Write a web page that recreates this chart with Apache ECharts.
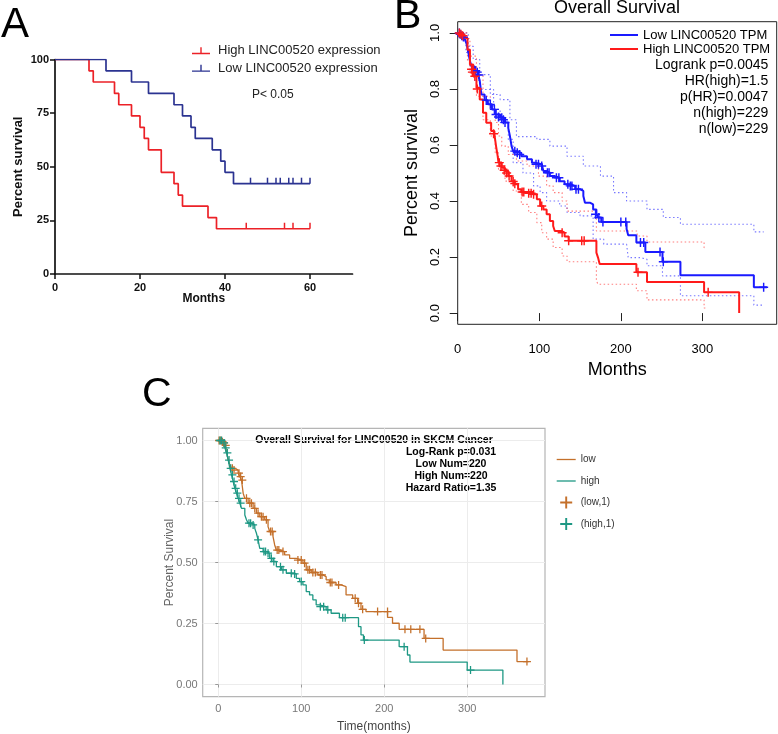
<!DOCTYPE html>
<html>
<head>
<meta charset="utf-8">
<script src="https://cdn.jsdelivr.net/npm/echarts@6.0.0/dist/echarts.min.js"></script>
<style>
  html, body { margin: 0; padding: 0; background: #fff; }
  #chart { width: 778px; height: 734px; }
</style>
</head>
<body>
<div id="chart"></div>
<script>
// ---- panel A (GraphPad style), months vs percent survival ----
const aHighCurve = [[0, 100], [8, 94.7], [9, 89.5], [14, 84.2], [15, 78.9], [18, 73.7], [20, 68.4], [21, 63.2],
  [22, 57.9], [25, 47.4], [28, 42.1], [29, 36.8], [30, 31.6], [36, 26.3], [38, 21.1], [60, 21.1]];
const aHighCensor = [[45, 21.1], [54, 21.1], [56, 21.1], [60, 21.1]];
const aLowCurve = [[0, 100], [12, 94.7], [18, 89.5], [22, 84.2], [28, 78.9], [30, 73.7], [32, 68.4], [33, 63.2],
  [37, 57.9], [39, 52.6], [40, 47.4], [42, 42.1], [60, 42.1]];
const aLowCensor = [[46, 42.1], [50, 42.1], [52, 42.1], [53, 42.1], [55, 42.1], [56, 42.1], [58, 42.1], [60, 42.1]];
const aXTicks = [0, 20, 40, 60];
const aYTicks = [0, 25, 50, 75, 100];

// ---- panel B (GEPIA) ----
const bLowCurve = [[0, 1], [3, 0.995], [6, 0.985], [9, 0.975], [11, 0.96], [13, 0.93], [15, 0.9], [17, 0.88], [21, 0.865],
  [25, 0.85], [27, 0.83], [29, 0.78], [33, 0.76], [37, 0.745], [42, 0.727], [46, 0.709], [52, 0.697], [58, 0.68],
  [62, 0.66], [64, 0.632], [66, 0.596], [68, 0.578], [72, 0.572], [78, 0.56], [85, 0.549], [91, 0.537], [95, 0.531],
  [103, 0.525], [105, 0.507], [109, 0.501], [113, 0.489], [119, 0.483], [125, 0.471], [131, 0.46], [138, 0.454],
  [144, 0.442], [150, 0.436], [154, 0.418], [156, 0.394], [162, 0.388], [166, 0.37], [170, 0.353], [172, 0.341],
  [176, 0.325], [207, 0.3], [209, 0.278], [219, 0.252], [230, 0.218], [251, 0.183], [273, 0.135], [363, 0.092], [379, 0.092]];
const bHighCurve = [[0, 1], [4, 0.995], [7, 0.99], [9, 0.982], [12, 0.94], [15, 0.887], [19, 0.845], [23, 0.804],
  [27, 0.762], [31, 0.715], [35, 0.679], [41, 0.65], [45, 0.638], [47, 0.596], [49, 0.56], [50, 0.537], [54, 0.519],
  [58, 0.507], [62, 0.489], [66, 0.471], [70, 0.46], [74, 0.442], [78, 0.432], [92, 0.424], [97, 0.406], [101, 0.382],
  [105, 0.37], [109, 0.353], [113, 0.329], [117, 0.311], [119, 0.293], [127, 0.287], [131, 0.273], [136, 0.258],
  [170, 0.216], [172, 0.198], [174, 0.175], [219, 0.146], [232, 0.111], [302, 0.074], [345, 0]];
const bLowCensor = [[2, 1], [3, 0.995], [5, 0.99], [7, 0.985], [22, 0.865], [24, 0.86], [26, 0.85], [35, 0.76],
  [40, 0.745], [45, 0.727], [47, 0.709], [50, 0.7], [54, 0.697], [56, 0.69], [58, 0.68], [70, 0.578], [73, 0.572],
  [76, 0.566], [96, 0.531], [99, 0.531], [103, 0.525], [110, 0.501], [112, 0.501], [121, 0.483], [124, 0.483],
  [135, 0.46], [138, 0.454], [140, 0.454], [145, 0.442], [148, 0.442], [169, 0.353], [173, 0.341], [178, 0.325],
  [200, 0.325], [206, 0.325], [224, 0.252], [228, 0.252], [248, 0.218], [252, 0.183], [375, 0.092]];
const bHighCensor = [[2, 1], [4, 0.995], [6, 0.99], [17, 0.87], [18, 0.86], [21, 0.845], [24, 0.8], [44, 0.64],
  [51, 0.537], [53, 0.525], [57, 0.51], [60, 0.5], [63, 0.489], [68, 0.47], [70, 0.462], [79, 0.432], [81, 0.432],
  [87, 0.428], [90, 0.428], [93, 0.424], [103, 0.382], [128, 0.287], [136, 0.258], [152, 0.258], [155, 0.258],
  [221, 0.146], [307, 0.074]];
const bLowUpper = [[0, 1], [10, 1], [13, 0.952], [19, 0.905], [27, 0.851], [40, 0.78], [52, 0.762], [64, 0.69],
  [72, 0.63], [97, 0.62], [113, 0.596], [134, 0.56], [154, 0.525], [175, 0.489], [191, 0.43], [207, 0.4], [232, 0.37],
  [252, 0.341], [273, 0.317], [363, 0.29], [375, 0.29]];
const bLowLower = [[0, 1], [5, 0.985], [10, 0.93], [15, 0.86], [20, 0.83], [27, 0.798], [44, 0.727], [52, 0.68],
  [62, 0.62], [68, 0.537], [80, 0.5], [93, 0.454], [101, 0.43], [109, 0.4], [125, 0.382], [134, 0.359], [150, 0.347],
  [166, 0.264], [179, 0.246], [207, 0.24], [209, 0.198], [224, 0.192], [232, 0.169], [251, 0.133], [273, 0.062],
  [363, 0.0285], [375, 0.0285]];
const bHighUpper = [[0, 1], [12, 0.98], [15, 0.917], [23, 0.851], [31, 0.774], [40, 0.727], [46, 0.68], [50, 0.632],
  [54, 0.596], [62, 0.566], [72, 0.543], [85, 0.525], [99, 0.489], [109, 0.454], [117, 0.43], [128, 0.4], [134, 0.364],
  [170, 0.293], [220, 0.275], [232, 0.254], [302, 0.233], [305, 0.233]];
const bHighLower = [[0, 1], [8, 0.97], [12, 0.9], [15, 0.857], [23, 0.774], [31, 0.69], [40, 0.632], [46, 0.572],
  [50, 0.513], [58, 0.471], [68, 0.436], [78, 0.388], [87, 0.359], [97, 0.323], [103, 0.287], [109, 0.264],
  [117, 0.234], [128, 0.204], [134, 0.183], [170, 0.115], [172, 0.103], [219, 0.08], [232, 0.047], [302, 0.018], [305, 0.018]];
const bXTicks = [0, 100, 200, 300];
const bYTicks = [0, 0.2, 0.4, 0.6, 0.8, 1.0];
const bStats = ['Logrank p=0.0045', 'HR(high)=1.5', 'p(HR)=0.0047', 'n(high)=229', 'n(low)=229'];

// ---- panel C (SKCM) ----
const cLowCurve = [[0, 1], [6, 0.99], [8, 0.98], [10, 0.955], [12, 0.92], [14, 0.9], [16, 0.886], [20, 0.879],
  [24, 0.866], [26, 0.852], [28, 0.838], [30, 0.784], [32, 0.763], [36, 0.743], [42, 0.722], [46, 0.702], [50, 0.688],
  [56, 0.675], [60, 0.647], [62, 0.627], [66, 0.606], [68, 0.572], [70, 0.551], [74, 0.545], [80, 0.531], [86, 0.517],
  [94, 0.51], [102, 0.497], [106, 0.47], [112, 0.459], [120, 0.449], [126, 0.442], [130, 0.429], [134, 0.418],
  [142, 0.408], [148, 0.401], [154, 0.367], [162, 0.353], [168, 0.333], [172, 0.308], [178, 0.299], [204, 0.275],
  [210, 0.251], [218, 0.226], [248, 0.189], [271, 0.141], [360, 0.094], [374, 0.094]];
const cHighCurve = [[0, 1], [6, 0.99], [8, 0.97], [10, 0.949], [12, 0.92], [14, 0.886], [16, 0.859], [18, 0.832],
  [20, 0.804], [22, 0.784], [24, 0.763], [26, 0.743], [28, 0.722], [32, 0.695], [34, 0.675], [36, 0.661], [40, 0.654],
  [44, 0.64], [46, 0.62], [48, 0.593], [50, 0.558], [54, 0.545], [58, 0.538], [62, 0.517], [66, 0.504], [70, 0.483],
  [76, 0.47], [82, 0.456], [90, 0.453], [94, 0.435], [98, 0.422], [102, 0.408], [106, 0.381], [110, 0.367],
  [114, 0.347], [118, 0.326], [122, 0.319], [130, 0.306], [136, 0.292], [146, 0.274], [169, 0.237], [172, 0.203],
  [175, 0.182], [218, 0.155], [228, 0.121], [231, 0.092], [300, 0.059], [343, 0]];
const cLowCensor = [[1, 1], [3, 1], [5, 0.995], [7, 0.99], [9, 0.98], [17, 0.886], [19, 0.879], [25, 0.866],
  [27, 0.852], [29, 0.838], [34, 0.763], [38, 0.743], [40, 0.743], [44, 0.722], [48, 0.702], [52, 0.688], [54, 0.688],
  [58, 0.675], [63, 0.627], [65, 0.627], [71, 0.551], [73, 0.551], [78, 0.545], [96, 0.51], [100, 0.51], [104, 0.497],
  [108, 0.47], [110, 0.47], [114, 0.459], [117, 0.459], [123, 0.449], [125, 0.449], [135, 0.418], [137, 0.418],
  [145, 0.408], [165, 0.353], [169, 0.333], [174, 0.308], [192, 0.299], [204, 0.299], [225, 0.226], [232, 0.226],
  [243, 0.226], [250, 0.189], [372, 0.094]];
const cHighCensor = [[2, 1], [4, 1], [7, 0.99], [9, 0.97], [11, 0.949], [13, 0.92], [15, 0.886], [17, 0.859],
  [19, 0.832], [21, 0.804], [23, 0.784], [25, 0.763], [27, 0.743], [37, 0.661], [39, 0.661], [42, 0.654], [48, 0.593],
  [55, 0.545], [57, 0.545], [60, 0.538], [64, 0.517], [67, 0.504], [75, 0.483], [78, 0.47], [88, 0.456], [92, 0.453],
  [100, 0.422], [123, 0.319], [127, 0.319], [132, 0.306], [150, 0.274], [153, 0.274], [176, 0.182], [224, 0.155],
  [304, 0.059]];
const cXTicks = [0, 100, 200, 300];
const cYTicks = [0, 0.25, 0.5, 0.75, 1.0];
const cTitle = 'Overall Survival for LINC00520 in SKCM Cancer';
const cStats = ['Log-Rank p=0.031', 'Low Num=220', 'High Num=220', 'Hazard Ratio=1.35'];

const RED_A = '#EC2127', BLUE_A = '#2B3391';
const RED_B = '#FF1A1A', BLUE_B = '#1A1AFF';
const LOW_C = '#C4702B', HIGH_C = '#1E9884';
const plusIcon = 'path://M4.2,0h1.6v10h-1.6z M0,4.2h10v1.6h-10z';
const tickIcon = 'path://M0,5.6h18v1.4h-18z M8.3,0h1.4v6h-1.4z';
const ARIAL = '"Liberation Sans", Arial, sans-serif';

function km(name, data, color, width, idx, extra) {
  return Object.assign({
    type: 'line', name, data, step: 'end', symbol: 'none', silent: true,
    xAxisIndex: idx, yAxisIndex: idx,
    lineStyle: { color, width }, itemStyle: { color }, z: 3
  }, extra || {});
}
function marks(name, data, color, idx, symbol, size, extra) {
  return Object.assign({
    type: 'scatter', name, data, symbol, symbolSize: size, silent: true,
    xAxisIndex: idx, yAxisIndex: idx, itemStyle: { color, opacity: 1 }, z: 4
  }, extra || {});
}
function ci(data, color, idx) {
  return km(undefined, data, color, 1.1, idx, { lineStyle: { color, width: 1.1, type: [1.5, 2.5] }, z: 2 });
}
// flat line icon for the legends
function lineIcon(len, thick) {
  return 'path://M0,0h' + len + 'v' + thick + 'h-' + len + 'z';
}

const chart = echarts.init(document.getElementById('chart'), null, { renderer: 'canvas' });

const option = {
  animation: false,
  backgroundColor: '#fff',
  grid: [
    { left: 55, top: 59.5, width: 297.5, height: 214.5 },
    { left: 457.7, top: 21.7, width: 319, height: 302.6, show: true, borderColor: '#222', borderWidth: 1 },
    { left: 202.7, top: 428.3, width: 342.3, height: 268.4, show: true, borderColor: '#b5b5b5', borderWidth: 1.2 }
  ],
  xAxis: [
    {
      gridIndex: 0, type: 'value', min: 0, max: 70,
      name: 'Months', nameLocation: 'middle', nameGap: 19, nameMoveOverlap: false,
      nameTextStyle: { fontFamily: ARIAL, fontWeight: 'bold', fontSize: 12, color: '#111' },
      axisLine: { show: true, lineStyle: { color: '#111', width: 1.7 } },
      axisTick: { show: true, length: 5, customValues: aXTicks, lineStyle: { color: '#111', width: 1.5 } },
      axisLabel: { customValues: aXTicks, margin: 8, fontFamily: ARIAL, fontWeight: 'bold', fontSize: 11, color: '#111' },
      splitLine: { show: false }
    },
    {
      gridIndex: 1, type: 'value', min: 0, max: 391,
      name: 'Months', nameLocation: 'middle', nameGap: 37, nameMoveOverlap: false,
      nameTextStyle: { fontFamily: ARIAL, fontSize: 18, color: '#000' },
      axisLine: { show: false },
      axisTick: { show: true, length: 8, customValues: bXTicks, lineStyle: { color: '#222', width: 1 } },
      axisLabel: { customValues: bXTicks, margin: 19, fontFamily: ARIAL, fontSize: 13, color: '#000' },
      splitLine: { show: false }
    },
    {
      gridIndex: 2, type: 'value', min: -18.75, max: 393.75,
      name: 'Time(months)', nameLocation: 'middle', nameGap: 24, nameMoveOverlap: false,
      nameTextStyle: { fontFamily: ARIAL, fontSize: 12, color: '#444' },
      axisLine: { show: false },
      axisTick: { show: true, length: 3, customValues: cXTicks, lineStyle: { color: '#999' } },
      axisLabel: { customValues: cXTicks, margin: 7, fontFamily: ARIAL, fontSize: 11, color: '#777' },
      splitLine: { show: true, lineStyle: { color: '#ececec', width: 1 } }
    }
  ],
  yAxis: [
    {
      gridIndex: 0, type: 'value', min: 0, max: 100,
      name: 'Percent survival', nameLocation: 'middle', nameGap: 30, nameMoveOverlap: false,
      nameTextStyle: { fontFamily: ARIAL, fontWeight: 'bold', fontSize: 13, color: '#111' },
      axisLine: { show: true, lineStyle: { color: '#111', width: 1.7 } },
      axisTick: { show: true, length: 5, customValues: aYTicks, lineStyle: { color: '#111', width: 1.5 } },
      axisLabel: { customValues: aYTicks, margin: 6, fontFamily: ARIAL, fontWeight: 'bold', fontSize: 11, color: '#111' },
      splitLine: { show: false }
    },
    {
      gridIndex: 1, type: 'value', min: -0.04, max: 1.04,
      name: 'Percent survival', nameLocation: 'middle', nameGap: 37, nameMoveOverlap: false,
      nameTextStyle: { fontFamily: ARIAL, fontSize: 18, color: '#000' },
      axisLine: { show: false },
      axisTick: { show: true, length: 8, customValues: bYTicks, lineStyle: { color: '#222', width: 1 } },
      axisLabel: { customValues: bYTicks, rotate: 90, margin: 16, fontFamily: ARIAL, fontSize: 13, color: '#000',
        formatter: v => v.toFixed(1) },
      splitLine: { show: false }
    },
    {
      gridIndex: 2, type: 'value', min: -0.05, max: 1.05,
      name: 'Percent Survival', nameLocation: 'middle', nameGap: 27, nameMoveOverlap: false,
      nameTextStyle: { fontFamily: ARIAL, fontSize: 12, color: '#666' },
      axisLine: { show: false },
      axisTick: { show: true, length: 3, customValues: cYTicks, lineStyle: { color: '#999' } },
      axisLabel: { customValues: cYTicks, margin: 5, fontFamily: ARIAL, fontSize: 11, color: '#777',
        formatter: v => v.toFixed(2) },
      splitLine: { show: true, lineStyle: { color: '#ececec', width: 1 } }
    }
  ],
  legend: [
    {
      left: 192, top: 43.7, padding: 0, orient: 'vertical', itemGap: 3.6, itemWidth: 18, itemHeight: 7,
      selectedMode: false,
      data: [{ name: 'High LINC00520 expression', icon: tickIcon }, { name: 'Low LINC00520 expression', icon: tickIcon }],
      textStyle: { fontFamily: ARIAL, fontSize: 13, color: '#222', lineHeight: 14, padding: [0, 0, 0, 3] }
    },
    {
      left: 610, top: 28, padding: 0, orient: 'vertical', itemGap: 0, itemWidth: 28, itemHeight: 14,
      selectedMode: false,
      data: [{ name: 'Low LINC00520 TPM', icon: lineIcon(28, 2) }, { name: 'High LINC00520 TPM', icon: lineIcon(28, 2) }],
      textStyle: { fontFamily: ARIAL, fontSize: 13, color: '#000', lineHeight: 14 }
    },
    {
      left: 556.7, top: 453.5, padding: 0, orient: 'vertical', itemGap: 9.5, itemWidth: 19, itemHeight: 12,
      selectedMode: false,
      data: [{ name: 'low', icon: lineIcon(19, 1.3) }, { name: 'high', icon: lineIcon(19, 1.3) },
        { name: '(low,1)', icon: plusIcon }, { name: '(high,1)', icon: plusIcon }],
      textStyle: { fontFamily: ARIAL, fontSize: 10, color: '#333', lineHeight: 12 }
    }
  ],
  graphic: [
    { type: 'text', x: 1, y: 25, style: { text: 'A', font: '42px ' + ARIAL, fill: '#000', verticalAlign: 'middle' } },
    { type: 'text', x: 394, y: 17, style: { text: 'B', font: '41px ' + ARIAL, fill: '#000', verticalAlign: 'middle' } },
    { type: 'text', x: 142, y: 395, style: { text: 'C', font: '41px ' + ARIAL, fill: '#000', verticalAlign: 'middle' } },
    { type: 'text', x: 252, y: 95, style: { text: 'P< 0.05', font: '12px ' + ARIAL, fill: '#222', verticalAlign: 'middle' } },
    { type: 'text', x: 617, y: 8, style: { text: 'Overall Survival', font: '18px ' + ARIAL, fill: '#000', align: 'center', verticalAlign: 'middle' } },
    { type: 'text', x: 768.3, y: 57.5, style: { text: bStats.join('\n'), font: '14px ' + ARIAL, lineHeight: 15.9, fill: '#000', align: 'right', verticalAlign: 'top' } },
    { type: 'text', x: 374, y: 440, style: { text: cTitle, font: 'bold 10.5px ' + ARIAL, fill: '#000', align: 'center', verticalAlign: 'middle' } },
    { type: 'text', x: 451, y: 445.6, style: { text: cStats.join('\n'), font: 'bold 10.5px ' + ARIAL, lineHeight: 12.2, fill: '#000', align: 'center', verticalAlign: 'top' } }
  ],
  series: [
    // A
    km('High LINC00520 expression', aHighCurve, RED_A, 1.7, 0),
    km('Low LINC00520 expression', aLowCurve, BLUE_A, 1.7, 0),
    marks('aHighCensor', aHighCensor, RED_A, 0, 'rect', [1.5, 6], { symbolOffset: [0, -3] }),
    marks('aLowCensor', aLowCensor, BLUE_A, 0, 'rect', [1.5, 6], { symbolOffset: [0, -3] }),
    // B
    ci(bLowUpper, 'rgba(30,30,255,0.6)', 1),
    ci(bLowLower, 'rgba(30,30,255,0.6)', 1),
    ci(bHighUpper, 'rgba(255,40,40,0.6)', 1),
    ci(bHighLower, 'rgba(255,40,40,0.6)', 1),
    km('Low LINC00520 TPM', bLowCurve, BLUE_B, 2, 1),
    km('High LINC00520 TPM', bHighCurve, RED_B, 2, 1),
    marks('bLowCensor', bLowCensor, BLUE_B, 1, plusIcon, 9),
    marks('bHighCensor', bHighCensor, RED_B, 1, plusIcon, 9),
    // C
    km('low', cLowCurve, LOW_C, 1.3, 2),
    km('high', cHighCurve, HIGH_C, 1.3, 2),
    marks('(low,1)', cLowCensor, LOW_C, 2, plusIcon, 8),
    marks('(high,1)', cHighCensor, HIGH_C, 2, plusIcon, 8)
  ]
};

chart.setOption(option);
</script>
</body>
</html>
